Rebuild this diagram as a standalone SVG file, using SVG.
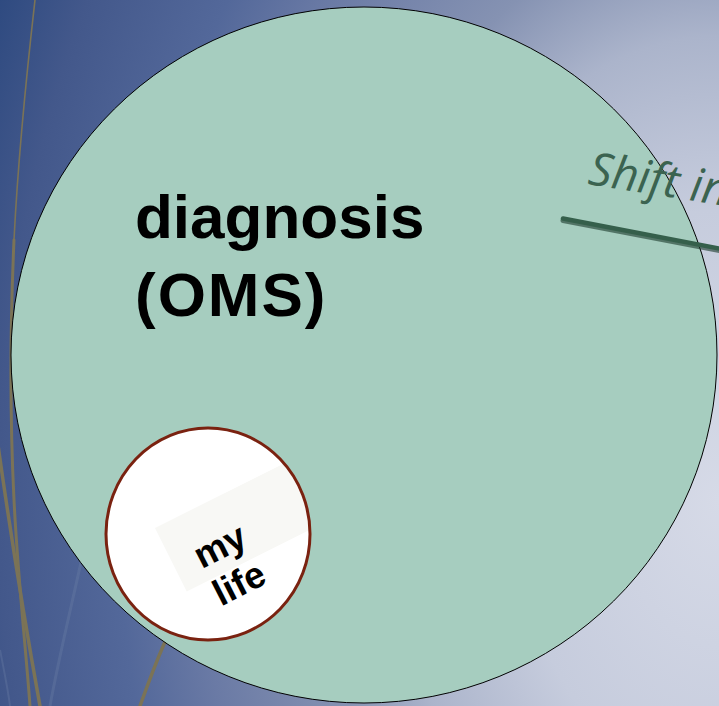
<svg xmlns="http://www.w3.org/2000/svg" width="719" height="706" viewBox="0 0 719 706">
  <defs>
    <radialGradient id="bg" gradientUnits="userSpaceOnUse" cx="0" cy="0" r="800" gradientTransform="translate(719,500) scale(1,1.45)">
      <stop offset="0" stop-color="#d6dae7"/>
      <stop offset="0.25" stop-color="#c6ccdd"/>
      <stop offset="0.4" stop-color="#abb4cb"/>
      <stop offset="0.5" stop-color="#8592b2"/>
      <stop offset="0.65" stop-color="#6a7aa5"/>
      <stop offset="0.75" stop-color="#53689a"/>
      <stop offset="0.9" stop-color="#43588b"/>
      <stop offset="1" stop-color="#2e4a80"/>
    </radialGradient>
    <clipPath id="lifeClip">
      <ellipse cx="208" cy="534" rx="102" ry="106"/>
    </clipPath>
    <style>
      .olive { fill: none; stroke: #7b7356; stroke-linecap: round; }
      .faint { fill: none; stroke: #7084aa; stroke-opacity: 0.3; }
      .title { font-family: "Liberation Sans", Arial, sans-serif; font-weight: bold; fill: #000; }
      .shift { font-family: "Open Sans", "Liberation Sans", sans-serif; font-style: italic; fill: #3b6350; }
    </style>
  </defs>

  <rect x="0" y="0" width="719" height="706" fill="url(#bg)"/>

  <!-- background decorative strands -->
  <path class="olive" stroke-width="1.6" d="M35,0 C 27,70 18,160 14,240"/>
  <path class="olive" stroke-width="3" d="M14,240 C 10,330 10,420 14,500 C 18,580 26,650 30,706"/>
  <path class="olive" stroke-width="3.5" d="M-2,445 C 10,530 28,640 40,706"/>
  <path class="faint" stroke-width="3" d="M90,520 C 78,580 60,650 50,706"/>
  <path class="faint" stroke-width="2" d="M0,650 C 4,670 8,690 10,706"/>
  <path class="olive" stroke-width="3.5" d="M185,600 C 172,625 160,650 140,706"/>

  <g id="diagnosis">
    <ellipse cx="364" cy="355" rx="353" ry="348" fill="#a6cdbf" stroke="#000" stroke-width="1"/>
    <text class="title" font-size="62" x="135" y="238">diagnosis</text>
    <text class="title" font-size="62" x="135" y="316" letter-spacing="2">(OMS)</text>
  </g>

  <g id="my-life">
    <ellipse cx="208" cy="534" rx="102" ry="106" fill="#ffffff"/>
    <g clip-path="url(#lifeClip)">
      <rect x="0" y="0" width="170" height="71" fill="#f8f8f5" transform="translate(155,528) rotate(-26.6)"/>
    </g>
    <ellipse cx="208" cy="534" rx="102" ry="106" fill="none" stroke="#7a2210" stroke-width="3"/>
    <g transform="translate(222,550) rotate(-27)">
      <text class="title" font-size="37" x="0" y="8" text-anchor="middle">my</text>
      <text class="title" font-size="37" x="0" y="50" text-anchor="middle">life</text>
    </g>
  </g>

  <g id="shift">
    <text class="shift" font-size="46" transform="translate(587,184) rotate(9)">Shift in</text>
  </g>

  <g id="connectors">
    <line x1="563" y1="220.5" x2="740" y2="254.5" stroke="#1c3a2c" stroke-width="5" stroke-linecap="round" opacity="0.6"/>
    <line x1="563" y1="218.5" x2="740" y2="252.5" stroke="#355f4b" stroke-width="4.5" stroke-linecap="round"/>
  </g>
</svg>
